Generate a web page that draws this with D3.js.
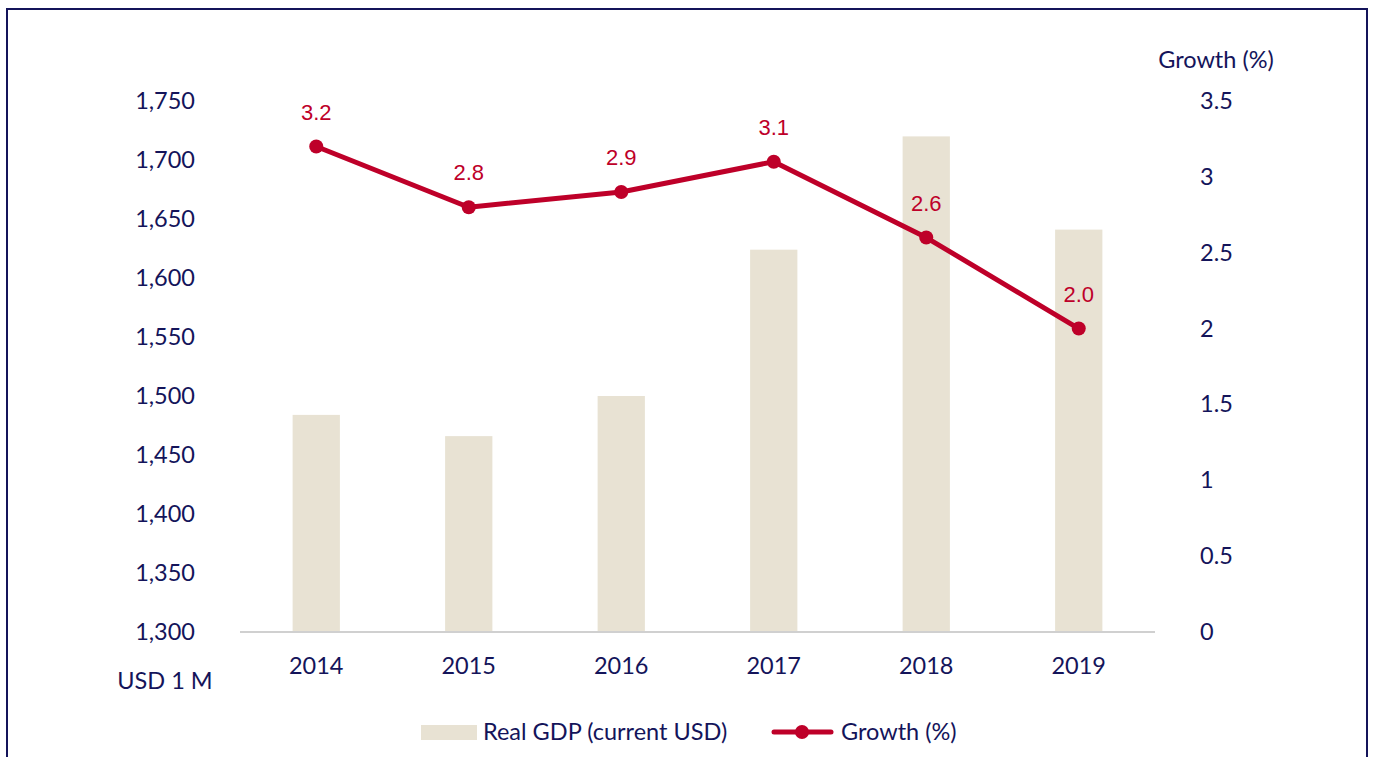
<!DOCTYPE html>
<html>
<head>
<meta charset="utf-8">
<script src="https://cdn.jsdelivr.net/npm/d3@7"></script>
<style>
  html, body { margin: 0; padding: 0; background: #fff; }
  svg { display: block; }
</style>
</head>
<body>
<script>
// chart data
const years = ['2014', '2015', '2016', '2017', '2018', '2019'];
const gdp = [1484, 1466, 1500, 1624, 1720, 1641];
const growth = [3.2, 2.8, 2.9, 3.1, 2.6, 2.0];
const gdpTicks = [1300, 1350, 1400, 1450, 1500, 1550, 1600, 1650, 1700, 1750];
const growthTicks = [0, 0.5, 1, 1.5, 2, 2.5, 3, 3.5];

const width = 1373;
const height = 757;
const navy = '#14145a';
const red = '#be0029';
const beige = '#e8e2d3';
const font = 'Lato, "Open Sans", sans-serif';
const fs = 23.5;

const svg = d3.select('body').append('svg')
  .attr('width', width)
  .attr('height', height);

// frame
svg.append('rect')
  .attr('x', 7).attr('y', 9)
  .attr('width', 1360).attr('height', 770)
  .attr('fill', 'none')
  .attr('stroke', navy)
  .attr('stroke-width', 2);

const plot = { left: 240, right: 1155, top: 101, bottom: 632 };

const x = d3.scaleBand()
  .domain(years)
  .range([plot.left, plot.right])
  .paddingInner(0.69)
  .paddingOuter(0.345);

const yL = d3.scaleLinear().domain([1300, 1750]).range([plot.bottom, plot.top]);
const yR = d3.scaleLinear().domain([0, 3.5]).range([plot.bottom, plot.top]);

// bars
svg.append('g').selectAll('rect')
  .data(years)
  .join('rect')
  .attr('x', d => x(d))
  .attr('width', x.bandwidth())
  .attr('y', (d, i) => yL(gdp[i]))
  .attr('height', (d, i) => yL(1300) - yL(gdp[i]))
  .attr('fill', beige);

// baseline
svg.append('line')
  .attr('x1', plot.left).attr('x2', plot.right)
  .attr('y1', plot.bottom).attr('y2', plot.bottom)
  .attr('stroke', '#d0d0d0')
  .attr('stroke-width', 2);

// left axis
const leftAxis = svg.append('g')
  .attr('transform', `translate(${plot.left - 45},0)`)
  .call(d3.axisLeft(yL).tickValues(gdpTicks).tickFormat(d3.format(',')).tickSize(0).tickPadding(0));
leftAxis.select('.domain').remove();
leftAxis.selectAll('text')
  .attr('fill', navy)
  .attr('font-family', font)
  .attr('font-size', fs);

// right axis
const rightAxis = svg.append('g')
  .attr('transform', `translate(${plot.right + 45},0)`)
  .call(d3.axisRight(yR).tickValues(growthTicks).tickFormat(d => String(d)).tickSize(0).tickPadding(0));
rightAxis.select('.domain').remove();
rightAxis.selectAll('text')
  .attr('fill', navy)
  .attr('font-family', font)
  .attr('font-size', fs);

// bottom axis
const bottomAxis = svg.append('g')
  .attr('transform', `translate(0,${plot.bottom})`)
  .call(d3.axisBottom(x).tickSize(0).tickPadding(25));
bottomAxis.select('.domain').remove();
bottomAxis.selectAll('text')
  .attr('fill', navy)
  .attr('font-family', font)
  .attr('font-size', fs);

// axis titles
svg.append('text')
  .attr('x', 1216).attr('y', 68)
  .attr('text-anchor', 'middle')
  .attr('fill', navy)
  .attr('font-family', font)
  .attr('font-size', fs)
  .text('Growth (%)');

svg.append('text')
  .attr('x', 165).attr('y', 689)
  .attr('text-anchor', 'middle')
  .attr('fill', navy)
  .attr('font-family', font)
  .attr('font-size', fs)
  .text('USD 1 M');

// growth line
const cx = d => x(d) + x.bandwidth() / 2;
const line = d3.line()
  .x((d, i) => cx(years[i]))
  .y(d => yR(d));

svg.append('path')
  .datum(growth)
  .attr('fill', 'none')
  .attr('stroke', red)
  .attr('stroke-width', 5)
  .attr('stroke-linejoin', 'round')
  .attr('d', line);

svg.append('g').selectAll('circle')
  .data(growth)
  .join('circle')
  .attr('cx', (d, i) => cx(years[i]))
  .attr('cy', d => yR(d))
  .attr('r', 7)
  .attr('fill', red);

svg.append('g').selectAll('text')
  .data(growth)
  .join('text')
  .attr('x', (d, i) => cx(years[i]))
  .attr('y', d => yR(d) - 27)
  .attr('text-anchor', 'middle')
  .attr('fill', red)
  .attr('font-family', '"Liberation Sans", Arial, sans-serif')
  .attr('font-size', 22)
  .text(d => d.toFixed(1));

// legend
const legend = svg.append('g');
legend.append('rect')
  .attr('x', 421).attr('y', 725)
  .attr('width', 56).attr('height', 15)
  .attr('fill', beige);
legend.append('text')
  .attr('x', 483).attr('y', 740)
  .attr('fill', navy)
  .attr('font-family', font)
  .attr('font-size', fs)
  .text('Real GDP (current USD)');

legend.append('line')
  .attr('x1', 774).attr('x2', 831)
  .attr('y1', 732).attr('y2', 732)
  .attr('stroke', red)
  .attr('stroke-width', 5)
  .attr('stroke-linecap', 'round');
legend.append('circle')
  .attr('cx', 802).attr('cy', 732)
  .attr('r', 7)
  .attr('fill', red);
legend.append('text')
  .attr('x', 841).attr('y', 740)
  .attr('fill', navy)
  .attr('font-family', font)
  .attr('font-size', fs)
  .text('Growth (%)');
</script>
</body>
</html>
